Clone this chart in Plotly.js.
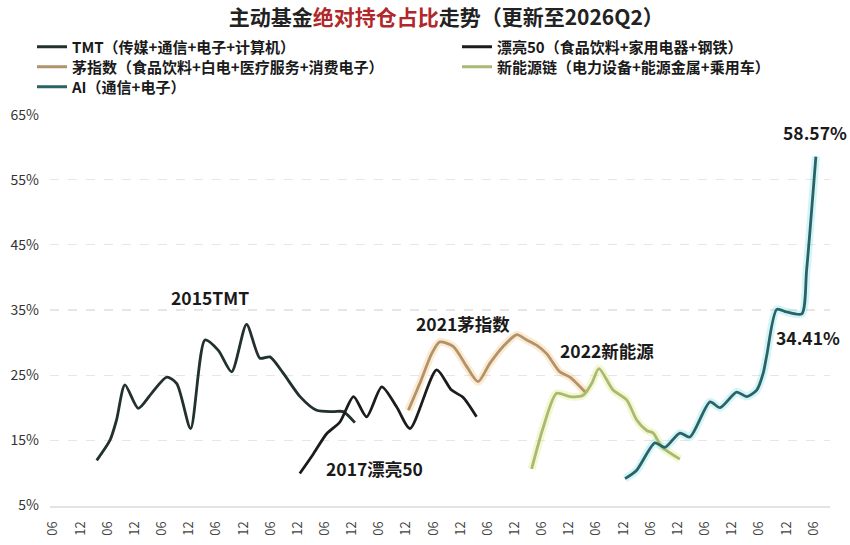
<!DOCTYPE html>
<html>
<head>
<meta charset="utf-8">
<script src="https://cdn.plot.ly/plotly-3.0.1.min.js"></script>
<style>html,body{margin:0;padding:0;background:#fff;}#chart{width:850px;height:545px;}</style>
</head>
<body>
<div id="chart"></div>
<script>
// x = half-year period index (tick k labelled "06"/"12" alternately), y = % share
const tickLabels = ['06','12','06','12','06','12','06','12','06','12','06','12','06','12','06','12','06','12','06','12','06','12','06','12','06','12','06','12','06'];

const tmtX = [1.60, 2.09, 2.33, 2.64, 3.13, 3.62, 4.18, 4.55, 5.06, 5.59, 6.08, 6.57, 7.12, 7.61, 7.98, 8.47, 9.09, 9.70, 10.31, 10.68, 11.11];
const tmtY = [11.9, 15.0, 18.1, 23.5, 19.9, 22.2, 24.7, 23.7, 16.8, 30.4, 28.8, 25.5, 32.8, 27.6, 27.8, 25.3, 21.7, 19.6, 19.4, 19.4, 17.7];

const p50X = [9.08, 9.58, 10.07, 10.56, 11.06, 11.54, 12.10, 12.65, 13.14, 14.12, 14.67, 15.09, 15.59];
const p50Y = [9.9, 12.9, 16.0, 17.8, 21.7, 18.6, 23.2, 20.1, 16.8, 25.8, 22.7, 21.6, 18.6];

const maoX = [13.08, 13.50, 13.94, 14.24, 14.73, 15.23, 15.65, 16.08, 16.57, 17.07, 17.44, 17.80, 18.17, 18.66, 19.03, 19.64];
const maoY = [19.6, 23.7, 28.3, 30.1, 29.4, 26.3, 24.0, 26.8, 29.4, 31.2, 30.4, 29.6, 28.3, 25.5, 24.7, 22.2];

const xnyX = [17.62, 18.05, 18.54, 19.03, 19.52, 19.83, 20.10, 20.62, 21.12, 21.49, 21.86, 22.10, 22.41, 23.08];
const xnyY = [10.6, 17.0, 22.2, 21.7, 21.9, 23.7, 26.0, 22.7, 21.2, 18.1, 16.5, 16.1, 14.0, 12.1];

const aiX = [21.06, 21.49, 22.16, 22.53, 23.08, 23.45, 24.19, 24.56, 25.17, 25.54, 25.91, 26.15, 26.28, 26.65, 27.01, 27.57, 27.75, 28.09];
const aiY = [9.1, 10.4, 14.6, 13.9, 16.1, 15.5, 20.9, 20.0, 22.4, 21.7, 22.7, 25.3, 28.0, 35.1, 34.7, 34.41, 41.2, 58.57];

const seriesNames = ['TMT（传媒+通信+电子+计算机）','漂亮50（食品饮料+家用电器+钢铁）','茅指数（食品饮料+白电+医疗服务+消费电子）','新能源链（电力设备+能源金属+乘用车）','AI（通信+电子）'];
const eventLabels = ['2015TMT','2017漂亮50','2021茅指数','2022新能源'];

const FONT = '"Noto Sans CJK SC", "Noto Sans", sans-serif';
const tickIdx = tickLabels.map((_, i) => i);

function glow(x, y, color) {
  return {x: x, y: y, type: 'scatter', mode: 'lines', showlegend: false, hoverinfo: 'skip',
    line: {shape: 'spline', smoothing: 0.7, width: 8, color: color}};
}
function line(x, y, name, color, legend) {
  return {x: x, y: y, type: 'scatter', mode: 'lines', name: name, legend: legend,
    line: {shape: 'spline', smoothing: 0.7, width: 2.8, color: color}};
}

const traces = [
  glow(maoX, maoY, 'rgba(247,195,125,0.35)'),
  glow(xnyX, xnyY, 'rgba(220,235,130,0.35)'),
  glow(aiX, aiY, 'rgba(130,225,235,0.35)'),
  line(tmtX, tmtY, seriesNames[0], '#22302f', 'legend'),
  line(p50X, p50Y, seriesNames[1], '#1c1c1c', 'legend2'),
  line(maoX, maoY, seriesNames[2], '#b0936a', 'legend3'),
  line(xnyX, xnyY, seriesNames[3], '#a9b974', 'legend4'),
  line(aiX, aiY, seriesNames[4], '#2b6266', 'legend5')
];

const annFont = {family: FONT, size: 17.5, color: '#1a1a1a', weight: 'bold'};
const last = aiY.length - 1;
const annotations = [
  {x: 5.77, y: 36.85, text: eventLabels[0]},
  {x: 11.84, y: 10.7, text: eventLabels[1]},
  {x: 15.09, y: 33.0, text: eventLabels[2]},
  {x: 20.39, y: 28.85, text: eventLabels[3]},
  {x: 28.05, y: 62.2, text: aiY[last].toFixed(2) + '%'},
  {x: 27.80, y: 30.85, text: aiY[15].toFixed(2) + '%'}
].map(a => Object.assign({xref: 'x', yref: 'y', showarrow: false, font: annFont, xanchor: 'center', yanchor: 'middle'}, a));

function legendAt(px, py) {
  return {orientation: 'v', xref: 'container', yref: 'container', xanchor: 'left', yanchor: 'middle',
    x: px / 850, y: 1 - py / 545,
    bgcolor: 'rgba(0,0,0,0)', borderwidth: 0,
    font: {family: FONT, size: 15, color: '#1a1a1a', weight: 'bold'}};
}

const layout = {
  width: 850, height: 545,
  margin: {l: 50, r: 20, t: 114, b: 39, autoexpand: false},
  paper_bgcolor: '#ffffff', plot_bgcolor: '#ffffff',
  font: {family: FONT, color: '#333'},
  title: {
    text: '主动基金<span style="color:#b0282a">绝对持仓占比</span>走势（更新至2026Q2）',
    font: {family: FONT, size: 21, color: '#222', weight: 'bold'},
    x: 0.525, xanchor: 'center', xref: 'container',
    y: 0.968, yanchor: 'middle', yref: 'container'
  },
  showlegend: true,
  legend: legendAt(32, 47),
  legend2: legendAt(457, 47),
  legend3: legendAt(32, 67),
  legend4: legendAt(457, 67),
  legend5: legendAt(32, 87),
  xaxis: {
    range: [-0.12, 28.61], showgrid: false, zeroline: false,
    tickmode: 'array', tickvals: tickIdx, ticktext: tickLabels, tickangle: -90,
    ticks: '', ticklabelstandoff: 8,
    tickfont: {family: FONT, size: 13, color: '#444'},
    showline: true, linecolor: '#e3e3e3', linewidth: 2
  },
  yaxis: {
    range: [4.9, 65.1], zeroline: false,
    tickmode: 'array', tickvals: [5, 15, 25, 35, 45, 55, 65],
    ticktext: ['5%', '15%', '25%', '35%', '45%', '55%', '65%'],
    ticks: '', ticklabelstandoff: 10,
    tickfont: {family: FONT, size: 14, color: '#333'},
    showgrid: true, gridcolor: '#e6e6e6', griddash: 'dash', gridwidth: 1.2
  },
  annotations: annotations
};

Plotly.newPlot('chart', traces, layout, {staticPlot: true, displayModeBar: false});
</script>
</body>
</html>
